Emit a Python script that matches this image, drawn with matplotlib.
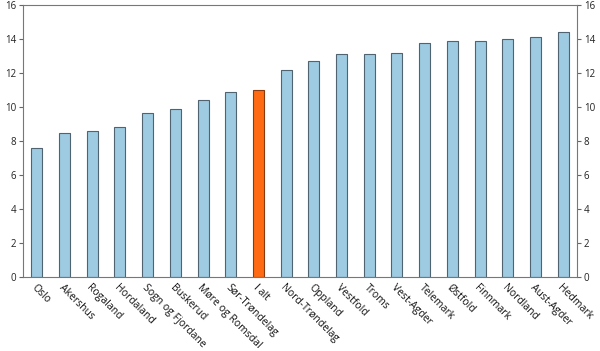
import matplotlib
matplotlib.use("Agg")
import matplotlib.pyplot as plt

plt.rcParams['font.family'] = ['Open Sans', 'DejaVu Sans']

categories = ["Oslo", "Akershus", "Rogaland", "Hordaland", "Sogn og Fjordane", "Buskerud",
              "Møre og Romsdal", "Sør-Trøndelag", "I alt", "Nord-Trøndelag", "Oppland",
              "Vestfold", "Troms", "Vest-Agder", "Telemark", "Østfold", "Finnmark",
              "Nordland", "Aust-Agder", "Hedmark"]
values = [7.6, 8.47, 8.57, 8.8, 9.62, 9.87, 10.42, 10.88, 11.02, 12.18, 12.7, 13.1, 13.1,
          13.17, 13.78, 13.9, 13.9, 13.98, 14.1, 14.4]
yticks = [0, 2, 4, 6, 8, 10, 12, 14, 16]

colors = ['#ff6a13' if c == "I alt" else '#9ecbe1' for c in categories]
edges = ['#8a3a10' if c == "I alt" else '#4f6370' for c in categories]

fig = plt.figure(figsize=(6.0, 3.51), dpi=100)
ax = fig.add_axes([23/600, 1-277/351, 554/600, 272/351])

x = list(range(len(categories)))
# subtle shadow on the right
ax.bar([i + 0.03 for i in x], values, width=0.4, color='#b8b8b8', zorder=1)
ax.bar(x, values, width=0.4, color=colors, edgecolor=edges, linewidth=0.8, zorder=2)

ax.set_xlim(-0.5, len(categories) - 0.5)
ax.set_ylim(0, 16)
ax.set_yticks(yticks)
ax.set_yticklabels([str(t) for t in yticks], fontsize=7, color='#222222')
ax.tick_params(axis='y', which='both', direction='out', length=3, color='#666666',
               left=True, right=True, labelleft=True, labelright=True, pad=2)
ax.set_xticks(x)
ax.set_xticklabels(categories, rotation=-45, ha='left', rotation_mode='anchor',
                   fontsize=7.5, color='#111111')
ax.tick_params(axis='x', length=0, pad=4)

for s in ['top', 'left', 'right', 'bottom']:
    ax.spines[s].set_color('#777777')
    ax.spines[s].set_linewidth(0.8)

fig.savefig('out.png', dpi=100)
